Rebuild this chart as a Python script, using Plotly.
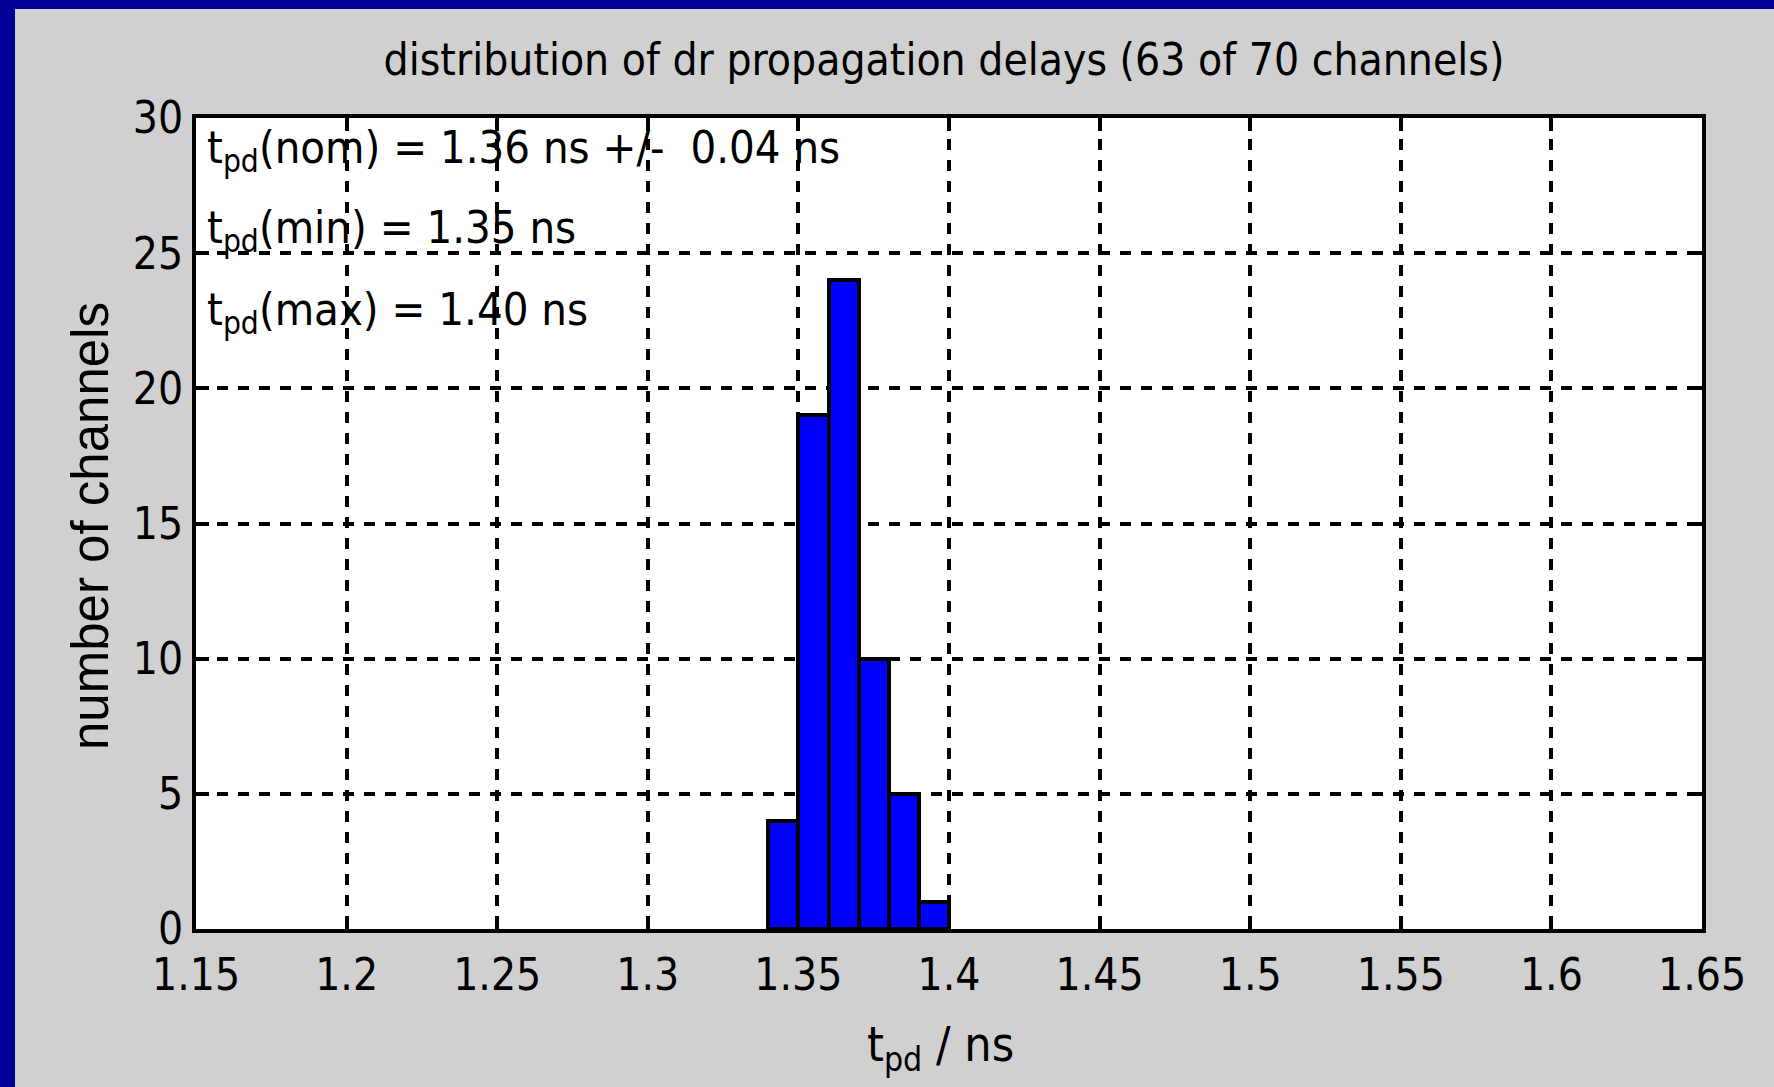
import plotly.graph_objects as go

# ---- data ----
bin_centers = [1.345, 1.355, 1.365, 1.375, 1.385, 1.395]
counts = [4, 19, 24, 10, 5, 1]
bin_width = 0.01

x_ticks = [1.15, 1.2, 1.25, 1.3, 1.35, 1.4, 1.45, 1.5, 1.55, 1.6, 1.65]
x_tick_labels = ["1.15", "1.2", "1.25", "1.3", "1.35", "1.4", "1.45", "1.5", "1.55", "1.6", "1.65"]
y_ticks = [0, 5, 10, 15, 20, 25, 30]
y_tick_labels = ["0", "5", "10", "15", "20", "25", "30"]

title_text = "distribution of dr propagation delays (63 of 70 channels)"
stat_lines = [
    "t<sub>pd</sub>(nom) = 1.36 ns +/- &nbsp;0.04 ns",
    "t<sub>pd</sub>(min) = 1.35 ns",
    "t<sub>pd</sub>(max) = 1.40 ns",
]
x_title = "t<sub>pd</sub> / ns"
y_title = "number of channels"

NARROW = "DejaVu Sans Condensed, Liberation Sans Narrow, Arial Narrow, sans-serif"
REG = "Liberation Sans, Arial, sans-serif"

W, H = 1774, 1087
L, R, T, B = 196, 72, 118, 158
PW = W - L - R
PH = H - T - B


def px_to_paper_x(px):
    return (px - L) / PW


def px_to_paper_y(py):
    return (H - B - py) / PH


fig = go.Figure()
fig.add_trace(go.Bar(
    x=bin_centers, y=counts, width=[bin_width] * len(counts),
    marker=dict(color="#0000ff", line=dict(color="black", width=4)),
    showlegend=False,
))

axis_common = dict(
    showline=True, linecolor="black", linewidth=4, mirror="ticks",
    ticks="inside", ticklen=13, tickwidth=4, tickcolor="black",
    showgrid=True, gridcolor="black", gridwidth=4, griddash="11px,10px",
    zeroline=False,
    tickfont=dict(family=NARROW, size=44, color="black"),
)

fig.update_xaxes(range=[1.15, 1.65], tickvals=x_ticks, ticktext=x_tick_labels,
                 ticklabelstandoff=4, **axis_common)
fig.update_yaxes(range=[0, 30], tickvals=y_ticks, ticktext=y_tick_labels, **axis_common)

shapes = [
    # blue slide frame (top and left)
    dict(type="rect", xref="paper", yref="paper",
         x0=px_to_paper_x(0), x1=px_to_paper_x(W + 2), y0=px_to_paper_y(9), y1=px_to_paper_y(-2),
         fillcolor="#000099", line=dict(width=0), layer="below"),
    dict(type="rect", xref="paper", yref="paper",
         x0=px_to_paper_x(-2), x1=px_to_paper_x(15), y0=px_to_paper_y(H + 2), y1=px_to_paper_y(-2),
         fillcolor="#000099", line=dict(width=0), layer="below"),
]

annotations = []
line_centers = [150, 230, 312]
for txt, cy in zip(stat_lines, line_centers):
    annotations.append(dict(
        text=txt, xref="paper", yref="paper", x=px_to_paper_x(205), y=px_to_paper_y(cy),
        xanchor="left", yanchor="middle", showarrow=False,
        font=dict(family=NARROW, size=45, color="black"),
    ))
annotations.append(dict(
    text=x_title, xref="paper", yref="paper", x=px_to_paper_x(940), y=px_to_paper_y(1047),
    xanchor="center", yanchor="middle", showarrow=False,
    font=dict(family=NARROW, size=48, color="black"),
))
annotations.append(dict(
    text=y_title, xref="paper", yref="paper", x=px_to_paper_x(90), y=px_to_paper_y(526),
    xanchor="center", yanchor="middle", showarrow=False, textangle=-90,
    font=dict(family=REG, size=51, color="black"),
))

fig.update_layout(
    width=W, height=H,
    margin=dict(l=L, r=R, t=T, b=B, pad=0),
    paper_bgcolor="#d0d0d0", plot_bgcolor="white",
    title=dict(text=title_text, x=944 / W, xanchor="center",
               y=1 - 60 / H, yanchor="middle",
               font=dict(family=NARROW, size=44, color="black")),
    shapes=shapes, annotations=annotations,
    bargap=0,
)

fig.write_html("out.html")
